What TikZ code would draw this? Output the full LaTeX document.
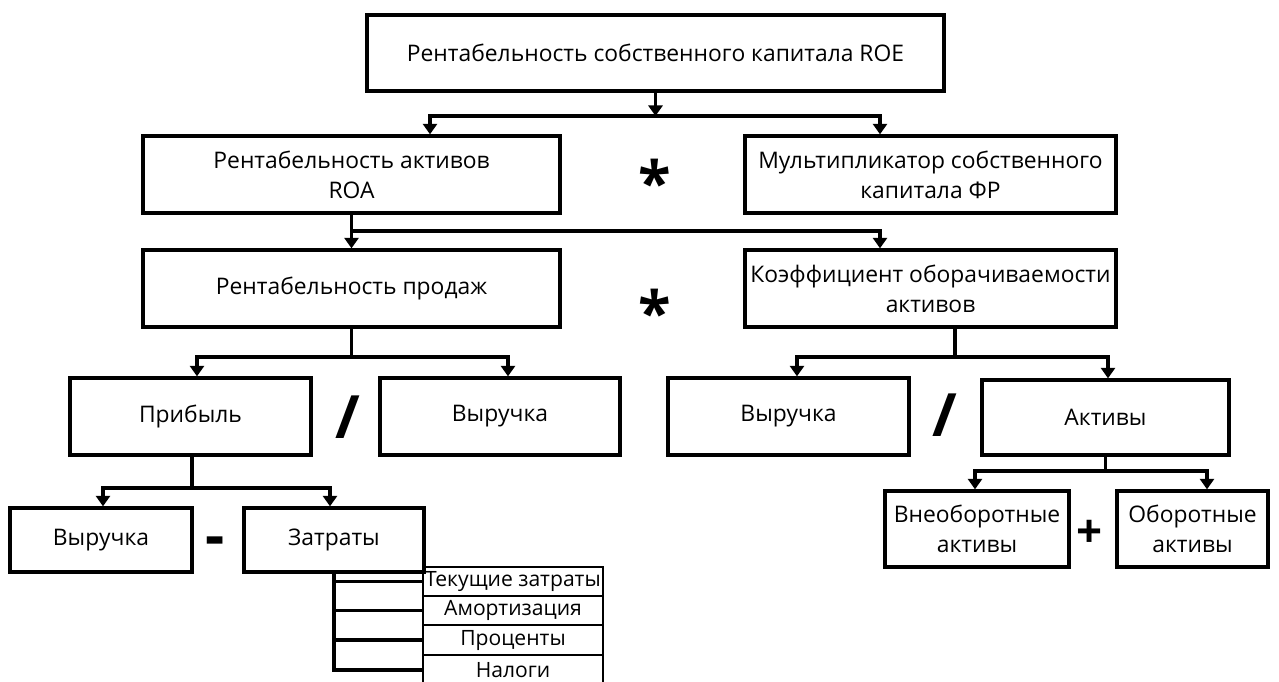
\documentclass[tikz,border=0pt]{standalone}
\usepackage{fontspec}
\setmainfont{Open Sans}
\usetikzlibrary{arrows.meta}

\begin{document}
\begin{tikzpicture}[x=.02cm, y=-.02cm,
    box/.style={draw, line width=1.9pt, align=center, inner sep=0pt,
      font=\fontsize{13}{17}\selectfont},
    sbox/.style={draw, line width=.8pt, inner sep=0pt, minimum width=3.6cm,
      font=\fontsize{12}{14}\selectfont},
    line/.style={line width=2pt, line cap=rect},
    arr/.style={line width=2pt, line cap=rect, -{Triangle[width=8pt,length=6pt]}},
    sym/.style={inner sep=0pt, font=\bfseries\fontsize{34}{34}\selectfont}]
  \useasboundingbox (0,0) rectangle (1279,681);

  \node[box, minimum width=11.54cm, minimum height=1.52cm] (roe) at (655.5,53) {Рентабельность собственного капитала ROE};
  \node[box, minimum width=8.34cm, minimum height=1.54cm] (roa) at (351.5,174.5) {Рентабельность активов\\ROA};
  \node[box, minimum width=7.42cm, minimum height=1.54cm] (mult) at (930.5,174.5) {Мультипликатор собственного\\капитала ФР};
  \node[box, minimum width=8.34cm, minimum height=1.54cm] (sales) at (351.5,288.5) {Рентабельность продаж};
  \node[box, minimum width=7.42cm, minimum height=1.54cm] (turn) at (930.5,288.5) {Коэффициент оборачиваемости\\активов};
  \node[box, minimum width=4.82cm, minimum height=1.54cm] (profit) at (190.5,416.5) {Прибыль};
  \node[box, minimum width=4.8cm, minimum height=1.54cm] (rev1) at (500,416.5) {Выручка};
  \node[box, minimum width=4.82cm, minimum height=1.54cm] (rev2) at (788.5,416.5) {Выручка};
  \node[box, minimum width=4.94cm, minimum height=1.5cm] (assets) at (1105.5,417.5) {Активы};
  \node[box, minimum width=3.64cm, minimum height=1.28cm] (rev3) at (101,540) {Выручка};
  \node[box, minimum width=3.6cm, minimum height=1.28cm] (cost) at (334,540) {Затраты};
  \node[box, minimum width=3.68cm, minimum height=1.52cm] (noncur) at (977,529) {Внеоборотные\\активы};
  \node[box, minimum width=3.02cm, minimum height=1.52cm] (cur) at (1192.5,529) {Оборотные\\активы};

  \node[sbox, minimum height=.58cm] (curc) at (513,581.5) {Текущие затраты};
  \node[sbox, minimum height=.58cm] (amort) at (513,610.5) {Амортизация};
  \node[sbox, minimum height=.6cm] (pct) at (513,640) {Проценты};
  \node[sbox, minimum height=.6cm] (tax) at (513,670) {Налоги};

  \node[sym] (m1) at (655,182) {*};
  \node[sym] (m2) at (655,312) {*};
  \node[sym] (d1) at (348,417) {/};
  \node[sym] (d2) at (945,415) {/};
  \node[sym] (s1) at (215,547) {-};
  \node[sym, font=\bfseries\fontsize{26}{26}\selectfont] (p1) at (1090,534) {+};

  \coordinate (j1l) at (430,116);
  \coordinate (j1r) at (880,116);
  \draw[arr] (roe.south) -- (roe.south |- j1l);
  \draw[line] (j1l) -- (j1r);
  \foreach \a/\b in {j1l/roa, j1r/mult}
    \draw[arr] (\a) -- (\a |- \b.north);

  \coordinate (j2) at (880,231);
  \draw[arr] (roa.south) -- (sales.north);
  \draw[line] (roa.south |- j2) -- (j2);
  \draw[arr] (j2) -- (j2 |- turn.north);

  \coordinate (j3l) at (197,357);
  \coordinate (j3r) at (508,357);
  \draw[line] (sales.south) -- (sales.south |- j3l);
  \draw[line] (j3l) -- (j3r);
  \foreach \a/\b in {j3l/profit, j3r/rev1}
    \draw[arr] (\a) -- (\a |- \b.north);

  \coordinate (k3) at (955,357);
  \coordinate (j3a) at (797,357);
  \coordinate (j3b) at (1108,357);
  \draw[line] (k3 |- turn.south) -- (k3);
  \draw[line] (j3a) -- (j3b);
  \foreach \a/\b in {j3a/rev2, j3b/assets}
    \draw[arr] (\a) -- (\a |- \b.north);

  \coordinate (k4) at (192,488);
  \coordinate (j4l) at (103,488);
  \coordinate (j4r) at (330,488);
  \draw[line] (k4 |- profit.south) -- (k4);
  \draw[line] (j4l) -- (j4r);
  \foreach \a/\b in {j4l/rev3, j4r/cost}
    \draw[arr] (\a) -- (\a |- \b.north);

  \coordinate (j4a) at (975,471);
  \coordinate (j4b) at (1207,471);
  \draw[line] (assets.south) -- (assets.south |- j4a);
  \draw[line] (j4a) -- (j4b);
  \foreach \a/\b in {j4a/noncur, j4b/cur}
    \draw[arr] (\a) -- (\a |- \b.north);

  \foreach \b in {curc, amort, pct, tax}
    \draw[line] (cost.south) |- (\b.west);

\end{tikzpicture}
\end{document}
